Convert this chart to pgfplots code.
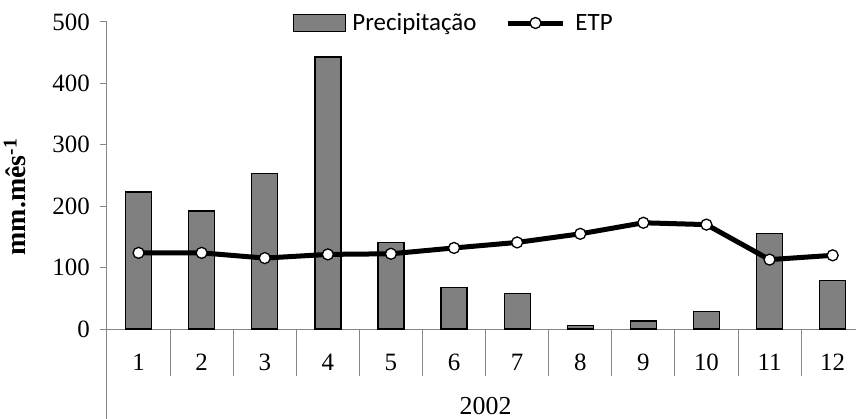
\documentclass[border=0pt]{standalone}
\usepackage{fontspec}
\setmainfont{Liberation Serif}
\newfontfamily\legendfont{Carlito}
\usepackage{pgfplots}
\pgfplotsset{compat=1.18}
\definecolor{axisgray}{RGB}{134,134,134}
\definecolor{barfill}{RGB}{128,128,128}
\pgfplotsset{
  barlegend/.style={legend image code/.code={\draw[##1] (0bp,-8.5bp) rectangle (52bp,8.5bp);}},
  linelegend/.style={legend image code/.code={%
    \draw[mark repeat=2, mark phase=2, ##1] plot coordinates {(0bp,0bp) (27.5bp,0bp) (55bp,0bp)};
    \path (59bp,0bp);}},
}

\begin{document}
\begin{tikzpicture}
\path[use as bounding box] (-107bp,-90bp) rectangle (749bp,329bp);
\begin{axis}[
  at={(0,0)}, anchor=south west,
  scale only axis, width=749bp, height=307bp,
  xmin=0.5, xmax=12.37, ymin=0, ymax=500,
  clip=false,
  axis x line=bottom, axis y line=left,
  axis line style={-, draw=axisgray, line width=1bp},
  tick align=outside,
  tick style={draw=axisgray, line width=1bp},
  major tick length=7bp, minor tick length=47bp,
  xtick={1,...,12},
  xticklabels={1,2,3,4,5,6,7,8,9,10,11,12},
  major x tick style={draw=none},
  minor xtick={1.5,2.5,...,11.5},
  ytick={0,100,...,500},
  /pgf/number format/assume math mode=true,
  ticklabel style={font=\fontsize{25}{30}\selectfont},
  xticklabel style={anchor=base, yshift=-34bp},
  yticklabel style={anchor=east, inner sep=0pt, xshift=-10bp},
  ylabel={\bfseries mm.mês\textsuperscript{-1}},
  ylabel style={at={(axis description cs:-0.123,0.43)}, anchor=center,
    font=\fontsize{28}{32}\selectfont},
  legend columns=2,
  legend style={at={(axis description cs:0.2443,0.9967)}, anchor=west,
    draw=none, fill=none, font=\legendfont\fontsize{25}{29}\selectfont,
    nodes={inner sep=0pt},
    /tikz/every odd column/.append style={column sep=6bp},
    /tikz/every even column/.append style={column sep=29bp}},
]
\addplot[ybar, bar width=26bp, fill=barfill, draw=black, line width=1.3bp, barlegend]
  coordinates {(1,223) (2,192) (3,253) (4,443) (5,141) (6,68)
               (7,57.5) (8,6) (9,13) (10,28) (11,155) (12,79)};
\addlegendentry{Precipitação}
\addplot[black, line width=5bp, mark=*, mark size=5.5bp,
  mark options={fill=white, draw=black, line width=1.3bp}, linelegend]
  coordinates {(1,124) (2,124) (3,115.5) (4,121.5) (5,122.5) (6,132)
               (7,141) (8,155) (9,173) (10,170) (11,113) (12,120)};
\addlegendentry{ETP}
\draw[axisgray, line width=1bp] (axis description cs:0,0) -- (axis description cs:0,-0.2932);
\node[font=\fontsize{26}{30}\selectfont] at (axis cs:6.5,0) [yshift=-77.5bp] {2002};
\end{axis}
\end{tikzpicture}
\end{document}
